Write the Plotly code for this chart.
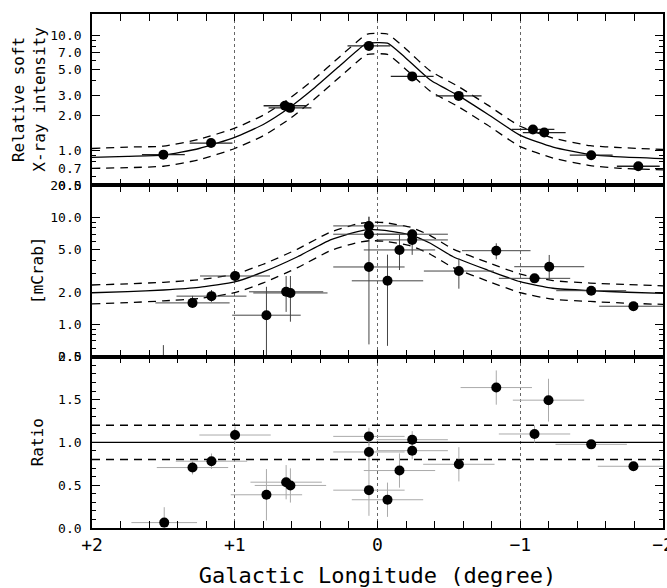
import math
import plotly.graph_objects as go
from plotly.subplots import make_subplots

# ---------------- data ----------------
# Top panel: relative soft X-ray intensity
top_x = [1.50, 1.166, 0.648, 0.613, 0.06, -0.243, -0.569, -1.089, -1.168, -1.497, -1.827]
top_y = [0.92, 1.16, 2.44, 2.34, 8.05, 4.38, 2.97, 1.52, 1.43, 0.91, 0.73]
top_xerr = [0.15, 0.15, 0.15, 0.15, 0.15, 0.15, 0.16, 0.15, 0.15, 0.15, 0.15]

top_model_x = [2.0, 1.75, 1.5, 1.25, 1.0, 0.8, 0.62, 0.445, 0.26, 0.1, 0.07, -0.07, -0.19, -0.37, -0.57, -0.77, -1.0, -1.23, -1.49, -1.7, -2.0]
top_model = [0.87, 0.89, 0.91, 1.04, 1.30, 1.68, 2.33, 3.45, 5.47, 8.1, 8.5, 8.5, 6.45, 4.07, 2.97, 2.07, 1.35, 1.07, 0.92, 0.88, 0.85]
top_upper = [1.04, 1.07, 1.09, 1.25, 1.56, 2.02, 2.80, 4.14, 6.56, 9.7, 10.2, 10.2, 7.74, 4.88, 3.56, 2.48, 1.62, 1.28, 1.10, 1.06, 1.02]
top_lower = [0.70, 0.71, 0.73, 0.83, 1.04, 1.34, 1.86, 2.76, 4.38, 6.48, 6.8, 6.8, 5.16, 3.26, 2.38, 1.66, 1.08, 0.86, 0.74, 0.70, 0.68]

# Middle panel: flux [mCrab]
mid_x = [1.50, 1.296, 1.163, 0.998, 0.778, 0.64, 0.61, 0.06, 0.06, 0.06, -0.07, -0.154, -0.243, -0.243, -0.57, -0.832, -1.10, -1.203, -1.497, -1.793]
mid_y = [0.10, 1.59, 1.84, 2.84, 1.22, 2.02, 1.97, 8.36, 6.99, 3.45, 2.56, 4.98, 6.99, 6.18, 3.16, 4.90, 2.70, 3.47, 2.07, 1.48]
mid_eplus = [0.54, 0.26, 0.26, 0.30, 1.03, 0.82, 0.87, 1.80, 0.60, 6.75, 1.94, 1.90, 0.50, 0.60, 1.00, 0.85, 0.20, 1.00, 0.10, 0.10]
mid_eminus = [0.05, 0.14, 0.21, 0.30, 1.00, 0.71, 0.91, 1.00, 0.60, 2.80, 1.93, 1.75, 0.60, 1.70, 1.00, 0.83, 0.20, 0.87, 0.10, 0.10]
mid_xerr = [0.23, 0.26, 0.245, 0.245, 0.24, 0.26, 0.26, 0.25, 0.25, 0.25, 0.25, 0.25, 0.25, 0.25, 0.245, 0.24, 0.25, 0.245, 0.245, 0.24]

mid_model_x = [2.0, 1.75, 1.5, 1.25, 1.0, 0.8, 0.56, 0.33, 0.14, 0.05, -0.05, -0.23, -0.37, -0.53, -0.77, -1.0, -1.23, -1.49, -1.75, -2.0]
mid_model = [1.98, 2.03, 2.10, 2.22, 2.50, 3.10, 4.30, 6.20, 7.40, 7.70, 7.60, 6.90, 5.75, 4.30, 3.23, 2.51, 2.18, 2.07, 2.00, 1.95]
mid_upper = [2.34, 2.40, 2.48, 2.62, 2.95, 3.66, 5.07, 7.32, 8.73, 9.09, 8.97, 8.14, 6.79, 5.07, 3.81, 2.96, 2.57, 2.44, 2.36, 2.30]
mid_lower = [1.56, 1.60, 1.66, 1.75, 1.98, 2.45, 3.40, 4.90, 5.85, 6.08, 6.00, 5.45, 4.54, 3.40, 2.55, 1.98, 1.72, 1.64, 1.58, 1.54]

# Bottom panel: ratio
rat_x = [1.494, 1.296, 1.163, 0.998, 0.778, 0.64, 0.61, 0.06, 0.06, 0.06, -0.07, -0.154, -0.243, -0.243, -0.57, -0.832, -1.10, -1.198, -1.497, -1.793]
rat_y = [0.063, 0.706, 0.78, 1.086, 0.388, 0.535, 0.497, 1.07, 0.888, 0.442, 0.33, 0.671, 1.031, 0.903, 0.744, 1.64, 1.098, 1.493, 0.977, 0.721]
rat_eplus = [0.18, 0.08, 0.09, 0.10, 0.30, 0.20, 0.20, 0.10, 0.10, 0.50, 0.20, 0.20, 0.10, 0.10, 0.20, 0.20, 0.10, 0.25, 0.05, 0.05]
rat_eminus = [0.18, 0.08, 0.09, 0.10, 0.30, 0.20, 0.20, 0.10, 0.10, 0.30, 0.20, 0.20, 0.10, 0.10, 0.20, 0.20, 0.10, 0.25, 0.05, 0.05]
rat_xerr = [0.23, 0.25, 0.25, 0.25, 0.25, 0.25, 0.25, 0.25, 0.25, 0.25, 0.25, 0.25, 0.25, 0.25, 0.25, 0.25, 0.25, 0.25, 0.25, 0.25]
rat_ref = [1.0, 1.2, 0.8]

x_tickvals = [2, 1, 0, -1, -2]
x_ticktext = ["+2", "+1", "0", "\u22121", "\u22122"]
top_tickvals = [0.5, 0.7, 1, 2, 3, 5, 7, 10]
top_ticktext = ["0.5", "0.7", "1.0", "2.0", "3.0", "5.0", "7.0", "10.0"]
mid_tickvals = [0.5, 1, 2, 5, 10, 20]
mid_ticktext = ["0.5", "1.0", "2.0", "5.0", "10.0", "20.0"]
rat_tickvals = [0.0, 0.5, 1.0, 1.5, 2.0]
rat_ticktext = ["0.0", "0.5", "1.0", "1.5", "2.0"]

# ---------------- figure ----------------
FONT = "DejaVu Sans Mono"
fig = make_subplots(rows=3, cols=1, shared_xaxes=True, vertical_spacing=0)

def model_traces(xs, ys, up, lo, row):
    fig.add_trace(go.Scatter(x=xs, y=ys, mode="lines", line=dict(color="black", width=1.3, shape="spline", smoothing=0.5),
                             showlegend=False, hoverinfo="skip"), row=row, col=1)
    for arr in (up, lo):
        fig.add_trace(go.Scatter(x=xs, y=arr, mode="lines",
                                 line=dict(color="black", width=1.3, dash="8px,6px", shape="spline", smoothing=0.5),
                                 showlegend=False, hoverinfo="skip"), row=row, col=1)

model_traces(top_model_x, top_model, top_upper, top_lower, 1)
fig.add_trace(go.Scatter(x=top_x, y=top_y, mode="markers",
                         marker=dict(color="black", size=10),
                         error_x=dict(type="data", array=top_xerr, color="#222", thickness=1.3, width=0),
                         showlegend=False), row=1, col=1)

model_traces(mid_model_x, mid_model, mid_upper, mid_lower, 2)
fig.add_trace(go.Scatter(x=mid_x, y=mid_y, mode="markers",
                         marker=dict(color="black", size=10),
                         error_x=dict(type="data", array=mid_xerr, color="#444", thickness=1, width=0),
                         error_y=dict(type="data", symmetric=False, array=mid_eplus, arrayminus=mid_eminus,
                                      color="#444", thickness=1, width=0),
                         showlegend=False), row=2, col=1)

for i, v in enumerate(rat_ref):
    fig.add_trace(go.Scatter(x=[2, -2], y=[v, v], mode="lines",
                             line=dict(color="black", width=1.2 if i == 0 else 1.4, dash="solid" if i == 0 else "8px,6px"),
                             showlegend=False, hoverinfo="skip"), row=3, col=1)
fig.add_trace(go.Scatter(x=rat_x, y=rat_y, mode="markers",
                         marker=dict(color="black", size=10),
                         error_x=dict(type="data", array=rat_xerr, color="#aaa", thickness=1, width=0),
                         error_y=dict(type="data", symmetric=False, array=rat_eplus, arrayminus=rat_eminus,
                                      color="#aaa", thickness=1, width=0),
                         showlegend=False), row=3, col=1)

xcommon = dict(range=[2, -2], autorange=False, automargin=False, showline=True, linecolor="black", linewidth=1.6,
               mirror="ticks", ticks="inside", ticklen=7, tickcolor="black", tickwidth=1.2,
               tickvals=x_tickvals, ticktext=x_ticktext,
               showgrid=True, gridcolor="#666", griddash="dot", gridwidth=1, zeroline=False,
               minor=dict(ticks="inside", ticklen=7, tickcolor="black", tickwidth=1.2, dtick=0.2, tick0=0, showgrid=False))
for r in (1, 2, 3):
    fig.update_xaxes(row=r, col=1, **xcommon)
fig.update_xaxes(row=3, col=1, showticklabels=True, tickfont=dict(family=FONT, size=18, color="black"),
                 ticklabeloverflow="allow",
                 title=dict(text="Galactic Longitude (degree)", font=dict(family=FONT, size=22, color="black"), standoff=14))

ycommon = dict(showline=True, linecolor="black", linewidth=1.6, mirror="ticks", ticks="inside", ticklen=8,
               tickcolor="black", tickwidth=1.2, showgrid=False, zeroline=False, automargin=False,
               tickfont=dict(family=FONT, size=13, color="black"), ticklabelstandoff=6)

top_minor = [0.6, 0.8, 0.9, 4, 6, 8, 9]
mid_minor = [0.6, 0.7, 0.8, 0.9, 3, 4, 6, 7, 8, 9]
fig.update_yaxes(row=1, col=1, type="log", range=[math.log10(0.499), math.log10(15.2)], tickvals=top_tickvals,
                 ticktext=top_ticktext, minor=dict(ticks="inside", ticklen=4, tickcolor="black", tickvals=top_minor), **ycommon)
fig.update_yaxes(row=2, col=1, type="log", range=[math.log10(0.499), math.log10(20.05)], tickvals=mid_tickvals,
                 ticktext=mid_ticktext, minor=dict(ticks="inside", ticklen=4, tickcolor="black", tickvals=mid_minor), **ycommon)
fig.update_yaxes(row=3, col=1, range=[0, 2.001], tickvals=rat_tickvals, ticktext=rat_ticktext,
                 minor=dict(ticks="inside", ticklen=4, tickcolor="black", dtick=0.1, tick0=0), **ycommon)

# y-axis titles
W = 667 - 92 - 4
def xp(px):
    return (px - 92) / W
fig.add_annotation(text="Relative soft<br>X-ray intensity", xref="paper", yref="paper", x=xp(29), y=5/6,
                   textangle=-90, showarrow=False, font=dict(family=FONT, size=16, color="black"), xanchor="center", yanchor="middle")
fig.add_annotation(text="[mCrab]", xref="paper", yref="paper", x=xp(37), y=0.5,
                   textangle=-90, showarrow=False, font=dict(family=FONT, size=16, color="black"), xanchor="center", yanchor="middle")
fig.add_annotation(text="Ratio", xref="paper", yref="paper", x=xp(37), y=1/6,
                   textangle=-90, showarrow=False, font=dict(family=FONT, size=16, color="black"), xanchor="center", yanchor="middle")

fig.update_layout(width=667, height=588, margin=dict(l=92, r=4, t=14, b=60, autoexpand=False),
                  paper_bgcolor="white", plot_bgcolor="white", showlegend=False)

fig.write_html("out.html", config={"displayModeBar": False},
               post_script="document.body.style.margin='0';document.body.style.overflow='hidden';")
